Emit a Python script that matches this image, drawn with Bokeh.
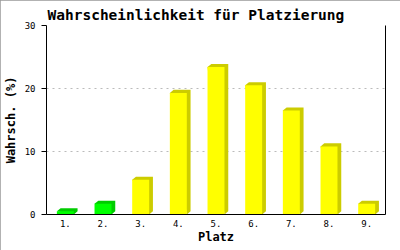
from bokeh.plotting import figure
from bokeh.models import Range1d, FixedTicker, LinearAxis, Title
from bokeh.embed import file_html
from bokeh.resources import INLINE
import numpy as np

# data
places = ["1.", "2.", "3.", "4.", "5.", "6.", "7.", "8.", "9."]
probs = [0.5, 1.7, 5.5, 19.3, 23.4, 20.5, 16.5, 10.8, 1.7]
y_ticks = [0, 10, 20, 30]
n_green = 2

FONT = "DejaVu Sans Mono"

x = np.arange(1, len(places) + 1)
v = np.array(probs)

p = figure(width=400, height=250, output_backend="svg", toolbar_location=None,
           x_range=Range1d(0.5, len(places) + 0.5), y_range=Range1d(0, 30),
           min_border_left=43, min_border_right=15, min_border_top=25,
           min_border_bottom=36)
p.styles = {"outline": "2px solid #999999", "outline-offset": "-2px"}
p.background_fill_color = "white"
p.border_fill_color = "white"
p.outline_line_color = None

t = Title(text="Wahrscheinlichkeit für Platzierung", align="left", offset=1,
          text_font=FONT, text_font_size="14.5px", text_font_style="bold",
          text_color="black", standoff=5)
p.add_layout(t, "above")

# bars (3D look)
bw = 0.45
dx = 0.1
dy = 0.5
front = ["#00ff00" if i < n_green else "#ffff00" for i in range(len(places))]
dark = ["#00cc00" if i < n_green else "#cccc00" for i in range(len(places))]
L = x - bw / 2
R = x + bw / 2
xs = [[l, l + dx, r + dx, r + dx, r] for l, r in zip(L, R)]
ys = [[val, val + dy, val + dy, dy, 0] for val in v]
p.patches(xs, ys, fill_color=dark, line_color=None)
p.vbar(x=x, width=bw, top=v, bottom=0, fill_color=front, line_color=None)

# axes
p.xaxis.ticker = FixedTicker(ticks=list(x))
p.xaxis.major_label_overrides = {int(i): s for i, s in zip(x, places)}
p.xaxis.axis_label = "Platz"
p.yaxis.ticker = FixedTicker(ticks=y_ticks)
p.yaxis.axis_label = "Wahrsch. (%)"
for ax in (p.xaxis[0], p.yaxis[0]):
    ax.axis_line_color = "black"
    ax.axis_label_text_font = FONT
    ax.axis_label_text_font_style = "bold"
    ax.axis_label_text_font_size = "12px"
    ax.axis_label_text_color = "black"
    ax.major_label_text_font = FONT
    ax.major_label_text_font_size = "9px"
    ax.major_label_text_color = "black"
    ax.minor_tick_line_color = None
    ax.major_tick_in = 0
p.xaxis.major_tick_out = 0
p.xaxis.major_label_standoff = 5
p.xaxis.axis_label_standoff = 0
p.yaxis.major_tick_out = 5
p.yaxis.major_tick_line_color = "black"
p.yaxis.major_label_standoff = 6
p.yaxis.axis_label_standoff = 4

right = LinearAxis(ticker=FixedTicker(ticks=[]), axis_line_color="black",
                   major_tick_out=0, major_tick_in=0, minor_tick_line_color=None)
p.add_layout(right, "right")

p.xgrid.grid_line_color = None
p.ygrid.ticker = FixedTicker(ticks=y_ticks)
p.ygrid.grid_line_color = "#bbbbbb"
p.ygrid.grid_line_dash = "2 4"

open("out.html", "w").write(file_html(p, INLINE))
